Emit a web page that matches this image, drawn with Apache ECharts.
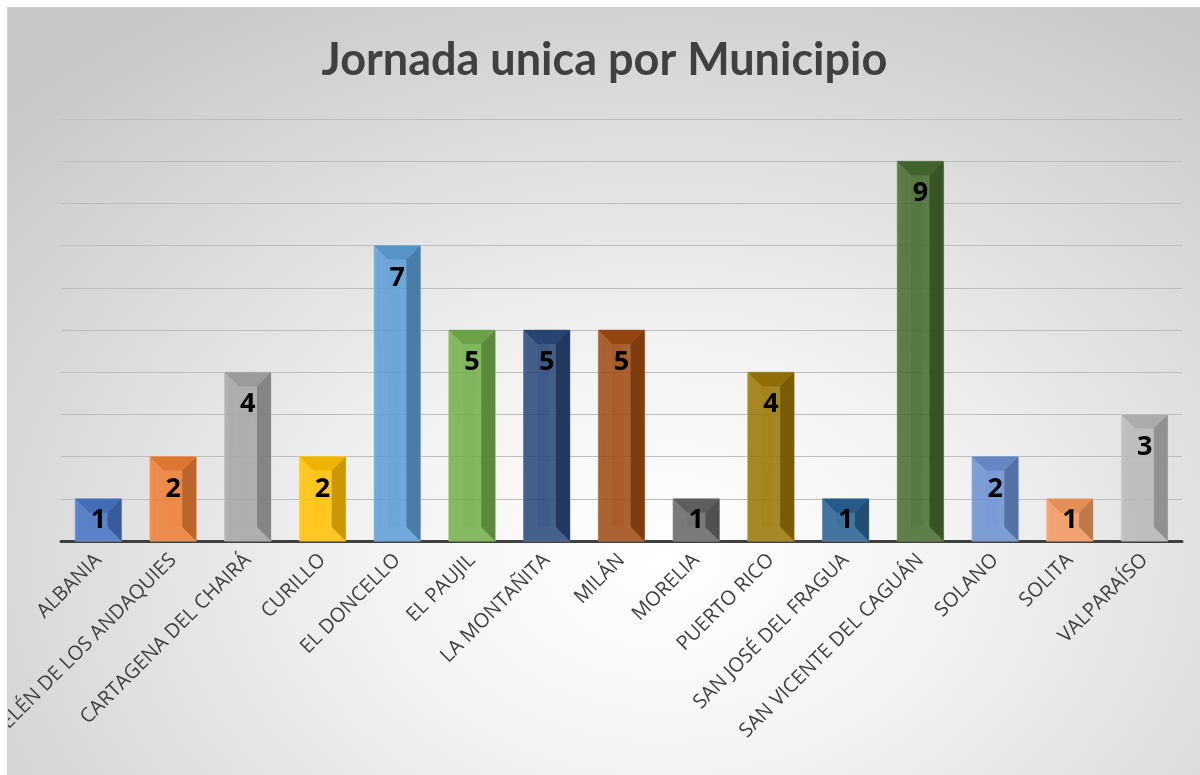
<!DOCTYPE html>
<html>
<head>
<meta charset="utf-8">
<script src="https://cdn.jsdelivr.net/npm/echarts@6/dist/echarts.min.js"></script>
<style>
  html, body { margin: 0; padding: 0; background: #fff; }
  .bg {
    position: absolute;
    left: 7px;
    top: 7px;
    width: 1193px;
    height: 768px;
    box-sizing: border-box;
    border-top: 1px solid #d0d0d0;
    border-left: 1px solid #d0d0d0;
    background: radial-gradient(ellipse 75% 85% at 55% 72%, #ffffff 0%, #f4f4f4 30%, #dedede 65%, #c8c8c8 100%);
    overflow: hidden;
  }
  #chart { width: 1193px; height: 768px; }
</style>
</head>
<body>
<div class="bg"><div id="chart"></div></div>
<script>
// datos
var municipios = ['ALBANIA', 'BELÉN DE LOS ANDAQUIES', 'CARTAGENA DEL CHAIRÁ', 'CURILLO', 'EL DONCELLO',
  'EL PAUJIL', 'LA MONTAÑITA', 'MILÁN', 'MORELIA', 'PUERTO RICO', 'SAN JOSÉ DEL FRAGUA',
  'SAN VICENTE DEL CAGUÁN', 'SOLANO', 'SOLITA', 'VALPARAÍSO'];
var cantidad = [1, 2, 4, 2, 7, 5, 5, 5, 1, 4, 1, 9, 2, 1, 3];
var colores = ['#4472C4', '#ED7D31', '#A5A5A5', '#FFC000', '#5B9BD5', '#70AD47', '#264478',
  '#9E480E', '#636363', '#997300', '#255E91', '#43682B', '#698ED0', '#F1975A', '#B7B7B7'];

// aclarar / oscurecer un color
function shade(hex, p) {
  var n = parseInt(hex.slice(1), 16);
  var r = n >> 16, g = (n >> 8) & 255, b = n & 255;
  var t = p < 0 ? 0 : 255, a = Math.abs(p);
  r = Math.round(r + (t - r) * a);
  g = Math.round(g + (t - g) * a);
  b = Math.round(b + (t - b) * a);
  return 'rgb(' + r + ',' + g + ',' + b + ')';
}

function barraBisel(params, api) {
  var base = api.coord([api.value(0), 0]);
  var tope = api.coord([api.value(0), api.value(1)]);
  var w = api.size([1, 0])[0] * 0.62;
  var x = tope[0] - w / 2, y = tope[1], h = base[1] - tope[1];
  var b = Math.min(14, h / 2);
  var c = colores[params.dataIndex];
  return {
    type: 'group',
    children: [
      { type: 'rect', shape: { x: x, y: y, width: w, height: h },
        style: { fill: c, stroke: shade(c, 0.4), lineWidth: 1, opacity: 0.85 } },
      { type: 'rect', shape: { x: x + w * 0.3, y: y + b, width: w * 0.25, height: h - 2 * b },
        style: { fill: shade(c, 0.08), opacity: 0.5 } },
      { type: 'polygon', shape: { points: [[x, y], [x + w, y], [x + w - b, y + b], [x + b, y + b]] },
        style: { fill: shade(c, -0.08), opacity: 0.85 } },
      { type: 'polygon', shape: { points: [[x + w, y], [x + w, y + h], [x + w - b, y + h - b], [x + w - b, y + b]] },
        style: { fill: shade(c, -0.25), opacity: 0.85 } },
      { type: 'polygon', shape: { points: [[x, y], [x + 3, y + 3], [x + 3, y + h - 3], [x, y + h]] },
        style: { fill: shade(c, 0.15), opacity: 0.85 } }
    ]
  };
}

var myChart = echarts.init(document.getElementById('chart'));
var option = {
  backgroundColor: 'transparent',
  title: {
    text: 'Jornada unica por Municipio',
    left: 'center',
    top: 25,
    textStyle: { fontFamily: 'Lato', fontSize: 45, fontWeight: 'bold', color: '#404040' }
  },
  grid: { left: 53, right: 19, top: 111, bottom: 235, containLabel: false, outerBoundsMode: 'none' },
  xAxis: {
    type: 'category',
    data: municipios,
    axisLine: { lineStyle: { color: '#404040', width: 3 } },
    axisTick: { show: false },
    axisLabel: {
      rotate: 45,
      interval: 0,
      margin: 16,
      fontFamily: 'Open Sans',
      fontSize: 20,
      color: '#404040'
    }
  },
  yAxis: {
    type: 'value',
    min: 0,
    max: 10,
    interval: 1,
    axisLabel: { show: false },
    axisLine: { show: false },
    axisTick: { show: false },
    splitLine: { lineStyle: { color: '#bdbdbd', width: 1 } }
  },
  series: [
    {
      type: 'custom',
      renderItem: barraBisel,
      encode: { x: 0, y: 1 },
      data: cantidad.map(function (v, i) { return [i, v]; }),
      z: 2
    },
    {
      type: 'bar',
      barWidth: '62%',
      data: cantidad.map(function (v) {
        return v < 2 ? { value: v, label: { position: 'inside' } } : v;
      }),
      itemStyle: { color: 'rgba(0,0,0,0)' },
      label: {
        show: true,
        position: 'insideTop',
        distance: 19,
        fontFamily: 'Open Sans',
        fontSize: 27,
        fontWeight: 'bold',
        color: '#000'
      },
      silent: true,
      z: 3
    }
  ]
};
myChart.setOption(option);
</script>
</body>
</html>
